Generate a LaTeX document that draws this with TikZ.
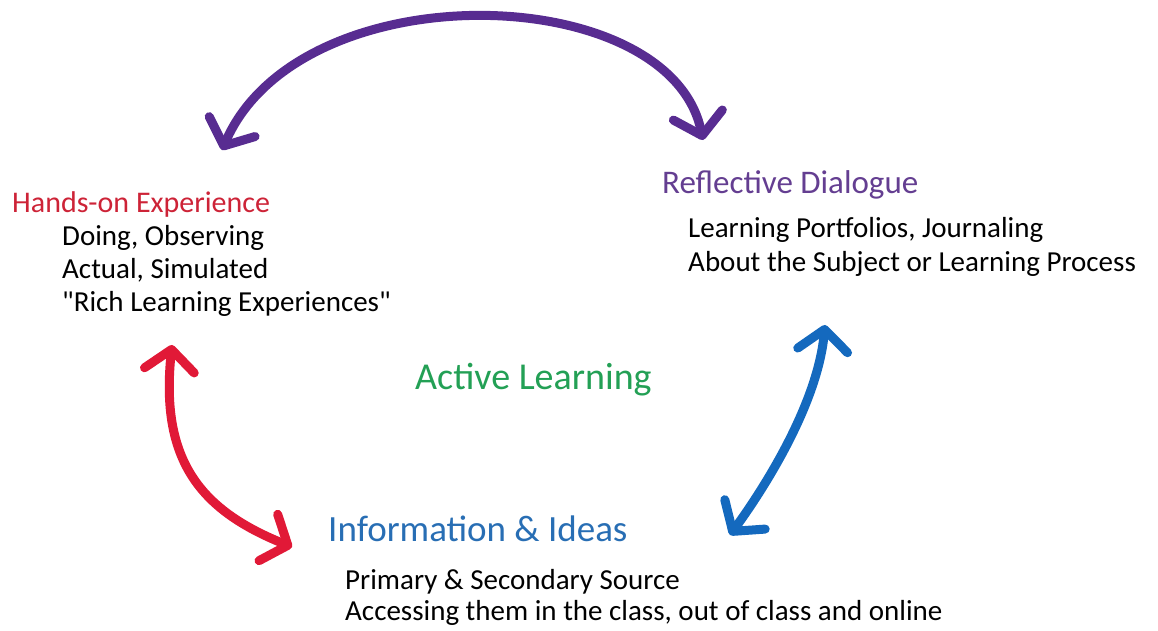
\documentclass[tikz,border=0pt]{standalone}
\usepackage{fontspec}
\setmainfont{Carlito}
\usetikzlibrary{arrows.meta,positioning}
\definecolor{expred}{RGB}{205,35,55}
\definecolor{dlgpurple}{RGB}{100,62,145}
\definecolor{actgreen}{RGB}{35,160,85}
\definecolor{infoblue}{RGB}{40,110,180}
\definecolor{arcpurple}{RGB}{88,44,145}
\definecolor{arcred}{RGB}{225,25,55}
\definecolor{arcblue}{RGB}{20,105,190}
\tikzset{
  basic/.style   = {inner sep=0pt, anchor=west},
  heading/.style = {basic, font=\fontsize{#1}{#1}\selectfont,
                    text height=\dimexpr#1pt*73/100\relax,
                    text depth=\dimexpr#1pt*25/100\relax},
  entry/.style   = {basic, font=\fontsize{29}{33}\selectfont,
                    text height=21pt, text depth=8pt},
  sweep/.style   = {line width=9pt, line cap=round,
                    {Straight Barb[length=21pt,width=50pt,round]}-{Straight Barb[length=21pt,width=50pt,round]}}
}
\begin{document}
\begin{tikzpicture}[x=1pt,y=1pt]
\useasboundingbox (0,0) rectangle (1158,630);

\node[heading=30, text=expred]    (hands)   at (12,425)  {Hands-on Experience};
\node[heading=33, text=dlgpurple] (reflect) at (662,444) {Reflective Dialogue};
\node[heading=38, text=actgreen]  (active)  at (415,250) {Active Learning};
\node[heading=37, text=infoblue]  (info)    at (328,97)  {Information \& Ideas};

\begin{scope}[every node/.style={entry}]
\node [below right=4pt and 50pt of hands.south west] (h1) {Doing, Observing};
\node [below=4pt of h1.south west, anchor=north west] (h2) {Actual, Simulated};
\node [below=4pt of h2.south west, anchor=north west] (h3) {\textquotedbl Rich Learning Experiences\textquotedbl};

\node [below right=14pt and 26pt of reflect.south west] (r1) {Learning Portfolios, Journaling};
\node [below=5pt of r1.south west, anchor=north west] (r2) {About the Subject or Learning Process};

\node [below right=17pt and 17pt of info.south west] (i1) {Primary \& Secondary Source};
\node [below=2pt of i1.south west, anchor=north west] (i2) {Accessing them in the class, out of class and online};
\end{scope}

% arrow ends
\coordinate (hands top)    at (222,480);
\coordinate (reflect top)  at (703,490);
\coordinate (hands low)    at (172,285);
\coordinate (info left)    at (292,83);
\coordinate (reflect low)  at (825,305);
\coordinate (info right)   at (730,95);

\draw[sweep, arcpurple] (hands top) .. controls (300,660) and (670,650) .. (reflect top);
\draw[sweep, arcred] (hands low) .. controls (160,170) and (200,120) .. (info left);
\draw[sweep, arcblue] (reflect low) .. controls (818,230) and (770,150) .. (info right);
\end{tikzpicture}
\end{document}
